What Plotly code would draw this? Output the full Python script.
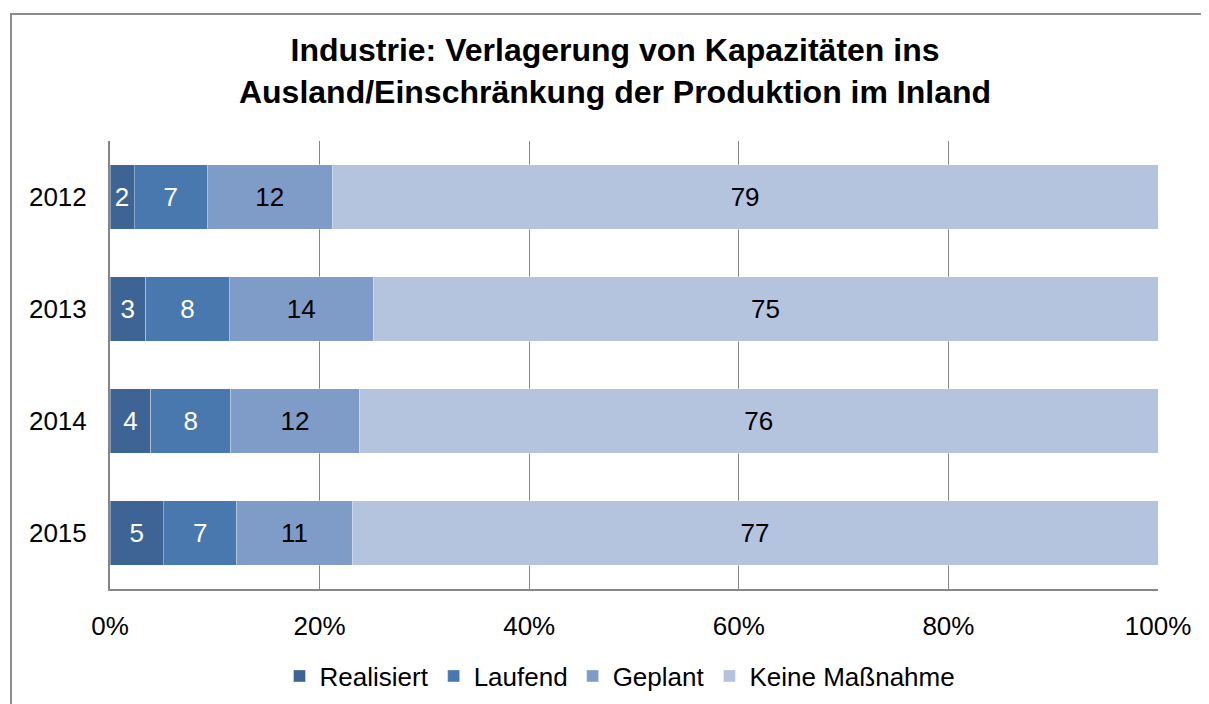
import plotly.graph_objects as go

years = ["2012", "2013", "2014", "2015"]
realisiert = [2.3, 3.4, 3.9, 5.1]
laufend = [7.0, 8.0, 7.6, 7.0]
geplant = [11.9, 13.7, 12.3, 11.0]
keine = [78.8, 74.9, 76.2, 76.9]
series_names = ["Realisiert", "Laufend", "Geplant", "Keine Maßnahme"]
colors = ["#3D6494", "#4878AE", "#7F9CC8", "#B4C3DE"]
label_colors = ["white", "white", "black", "black"]
x_ticks = [0, 20, 40, 60, 80, 100]
x_tick_labels = ["0%", "20%", "40%", "60%", "80%", "100%"]
title_text = "Industrie: Verlagerung von Kapazitäten ins<br>Ausland/Einschränkung der Produktion im Inland"

FONT = "Liberation Sans, Arial, sans-serif"
OFF = 8  # body margin of the page

W, H = 1201, 696
# plot area in screen pixels
SX0, SX1, SY0, SY1 = 110, 1158, 141, 589
L = SX0 - OFF
R = W - (SX1 - OFF)
T = SY0 - OFF
B = H - (SY1 - OFF)
pw, ph = SX1 - SX0, SY1 - SY0

def px_x(sx):
    return (sx - SX0) / pw

def px_y(sy):
    return (SY1 - sy) / ph

fig = go.Figure()
for name, vals, col, lc in zip(series_names, [realisiert, laufend, geplant, keine], colors, label_colors):
    fig.add_trace(go.Bar(
        y=years, x=vals, name=name, orientation="h",
        marker=dict(color=col, line=dict(color="rgba(255,255,255,0.35)", width=1)),
        text=[f"{round(v)}" for v in vals], textposition="inside",
        insidetextanchor="middle", textangle=0,
        textfont=dict(color=lc, size=26, family=FONT),
        cliponaxis=False,
    ))

fig.update_layout(
    width=W, height=H,
    barmode="stack", bargap=0.425,
    plot_bgcolor="white", paper_bgcolor="white",
    margin=dict(l=L, r=R, t=T, b=B, autoexpand=False),
    font=dict(family=FONT, size=26, color="black"),
    title=dict(text="<b>" + title_text + "</b>", x=(615 - OFF) / W, xanchor="center",
               y=1 - (61 - OFF) / H, yanchor="top",
               font=dict(size=32, family=FONT, color="black")),
    xaxis=dict(range=[0, 100], tickvals=x_ticks, ticktext=x_tick_labels,
               showgrid=True, gridcolor="#868686", gridwidth=1,
               showline=True, linecolor="#868686", linewidth=2,
               zeroline=False, ticks="", tickfont=dict(size=26), ticklabelstandoff=13),
    yaxis=dict(autorange="reversed", showline=True, linecolor="#868686", linewidth=2,
               showgrid=False, ticks="", tickfont=dict(size=26), ticklabelstandoff=16),
    legend=dict(orientation="h", x=px_x(620), xanchor="center", y=px_y(676), yanchor="middle",
                font=dict(size=26), traceorder="normal", itemwidth=30),
    shapes=[dict(type="rect", xref="paper", yref="paper",
                 x0=px_x(11), x1=px_x(1230), y0=px_y(730), y1=px_y(14),
                 line=dict(color="#8C8C8C", width=2), fillcolor="rgba(0,0,0,0)", layer="below")],
)

fig.write_html("out.html")
